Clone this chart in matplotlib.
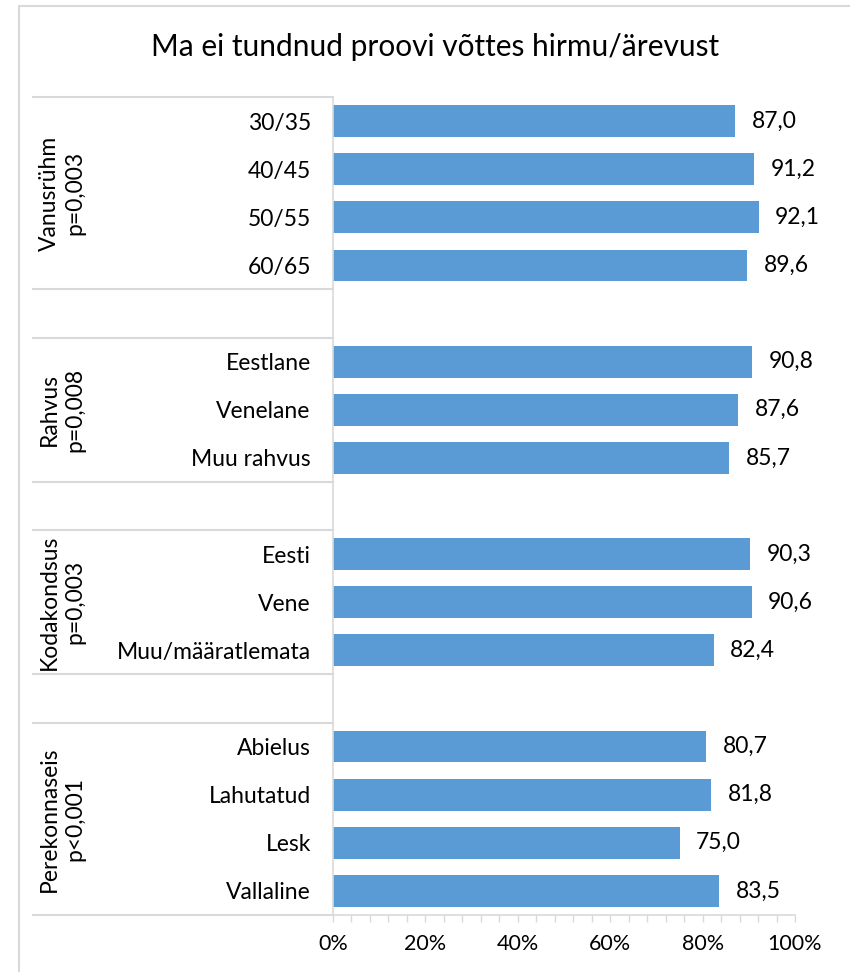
import matplotlib
matplotlib.use("Agg")
import matplotlib.pyplot as plt
from matplotlib.ticker import MultipleLocator, FuncFormatter
from matplotlib.patches import Rectangle
import matplotlib.transforms as mtransforms

plt.rcParams['font.family'] = ['Lato', 'DejaVu Sans']

title = "Ma ei tundnud proovi võttes hirmu/ärevust"

# Groups: name, p-value, category labels, values (%)
group_names = ["Vanusrühm", "Rahvus", "Kodakondsus", "Perekonnaseis"]
group_pvalues = ["p=0,003", "p=0,008", "p=0,003", "p<0,001"]
age_labels = ["30/35", "40/45", "50/55", "60/65"]
age_values = [87.0, 91.2, 92.1, 89.6]
nation_labels = ["Eestlane", "Venelane", "Muu rahvus"]
nation_values = [90.8, 87.6, 85.7]
citizen_labels = ["Eesti", "Vene", "Muu/määratlemata"]
citizen_values = [90.3, 90.6, 82.4]
marital_labels = ["Abielus", "Lahutatud", "Lesk", "Vallaline"]
marital_values = [80.7, 81.8, 75.0, 83.5]

groups = [
    (age_labels, age_values),
    (nation_labels, nation_values),
    (citizen_labels, citizen_values),
    (marital_labels, marital_values),
]

# Flatten into rows with a blank spacer row between groups
labels, values, positions = [], [], []
group_spans = []
row = 0
for gi, (lbls, vals) in enumerate(groups):
    start = row
    for l, v in zip(lbls, vals):
        labels.append(l)
        values.append(v)
        positions.append(row)
        row += 1
    group_spans.append((start, row - 1))
    if gi < len(groups) - 1:
        row += 1
n_rows = row

bar_color = "#5B9BD5"
grid_gray = "#D9D9D9"
text_color = "#000000"
label_size = 16.5

W, H = 850, 972
fig = plt.figure(figsize=(W / 100, H / 100), dpi=100)

# chart outer border
fig.patches.append(Rectangle((19 / W, -0.1), 1.2, 1 - 6 / H + 0.1,
                             transform=fig.transFigure, fill=False,
                             edgecolor=grid_gray, linewidth=1.5))

ax_left, ax_right = 333 / W, 795 / W
ax_top, ax_bottom = 1 - 97 / H, 1 - 915 / H
ax = fig.add_axes([ax_left, ax_bottom, ax_right - ax_left, ax_top - ax_bottom])

ax.barh(positions, values, height=0.66, color=bar_color, zorder=2)
ax.set_xlim(0, 100)
ax.set_ylim(n_rows - 0.5, -0.5)

for p, v in zip(positions, values):
    ax.annotate(f"{v:.1f}".replace(".", ","), xy=(v, p), xytext=(12, 0),
                textcoords="offset points", va="center", ha="left",
                fontsize=label_size, color=text_color)

ax.set_yticks(positions)
ax.set_yticklabels(labels, fontsize=label_size, color=text_color)
ax.tick_params(axis="y", length=0, pad=16)

ax.xaxis.set_major_locator(MultipleLocator(20))
ax.xaxis.set_minor_locator(MultipleLocator(4))
ax.xaxis.set_major_formatter(FuncFormatter(lambda x, _: f"{int(round(x))}%"))
ax.tick_params(axis="x", which="both", direction="out", length=5,
               width=1, color=grid_gray, labelsize=15.5, labelcolor=text_color, pad=9)

for s in ["top", "right"]:
    ax.spines[s].set_visible(False)
for s in ["left", "bottom"]:
    ax.spines[s].set_color(grid_gray)
    ax.spines[s].set_linewidth(1.2)

# group separators extending into the label area
trans = mtransforms.blended_transform_factory(ax.transAxes, ax.transData)
x0 = (33 - 333) / (795 - 333)
boundaries = [-0.5]
for gi, (s, e) in enumerate(group_spans):
    boundaries.append(e + 0.5)
    if gi < len(group_spans) - 1:
        boundaries.append(e + 1.5)
for b in boundaries:
    ax.plot([x0, 0], [b, b], transform=trans, color=grid_gray,
            linewidth=1.5, clip_on=False, zorder=1)

# rotated group labels
gx = (62 - 333) / (795 - 333)
for (s, e), name, pv in zip(group_spans, group_names, group_pvalues):
    ax.text(gx, (s + e) / 2, f"{name}\n{pv}", transform=trans, rotation=90,
            ha="center", va="center", fontsize=label_size, color=text_color,
            linespacing=1.3, multialignment="center")

fig.text(435 / W, 1 - 47 / H, title, ha="center", va="center",
         fontsize=21.5, color=text_color)

fig.savefig("out.png", dpi=100, facecolor="white")
